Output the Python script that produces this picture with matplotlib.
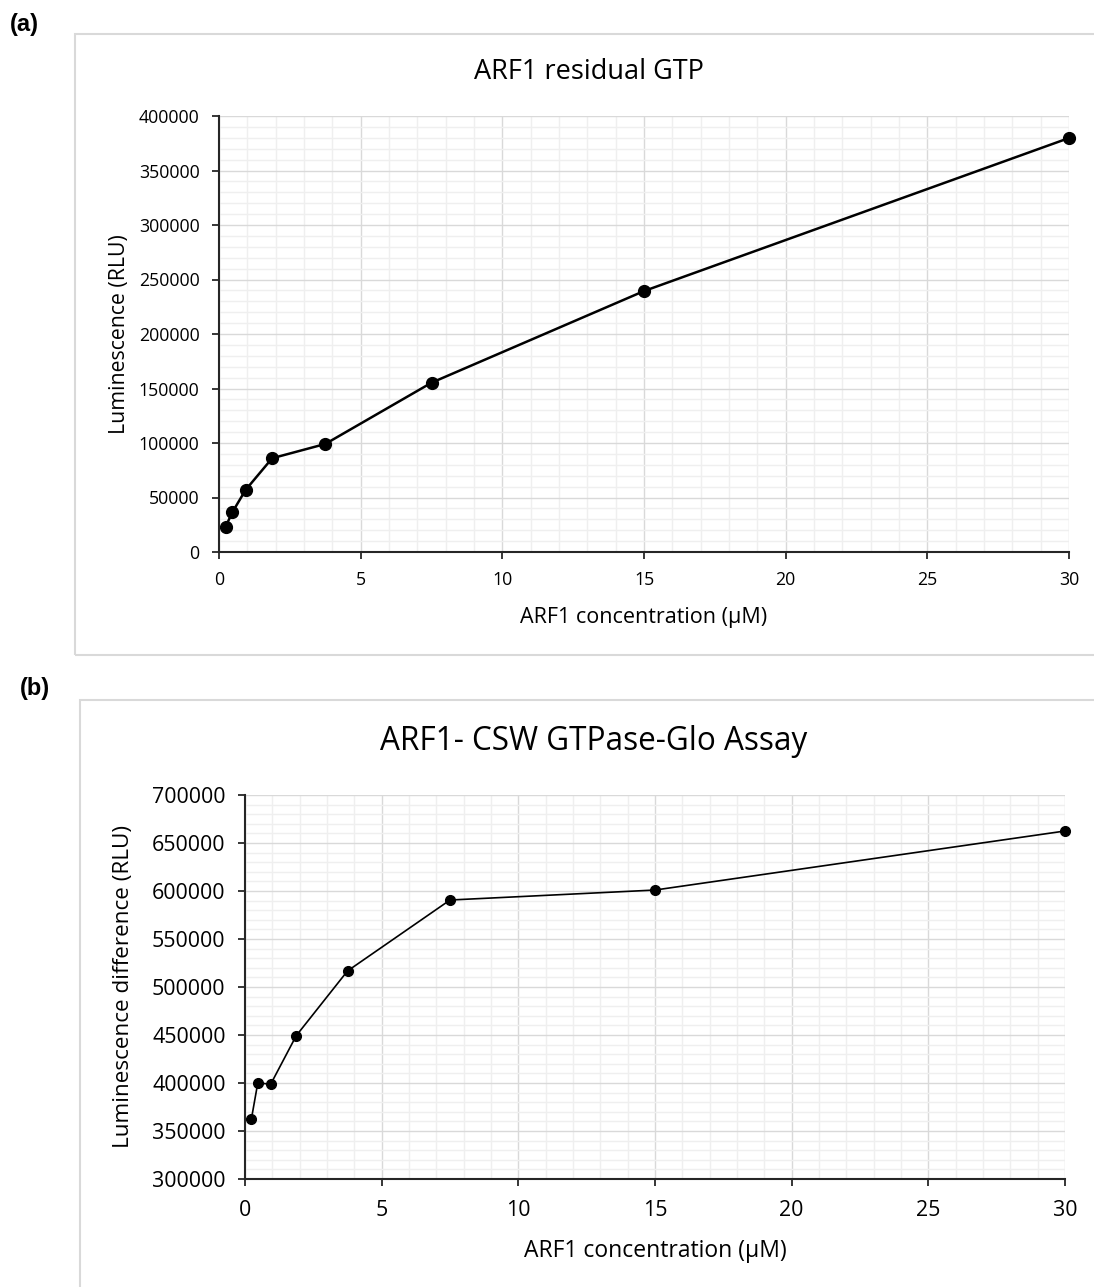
import numpy as np
import matplotlib.pyplot as plt
from matplotlib.patches import Rectangle
from matplotlib.ticker import MultipleLocator

# ARF1 concentrations (uM)
conc = [0.234, 0.469, 0.9375, 1.875, 3.75, 7.5, 15, 30]

# (a) residual GTP luminescence
lum_a = [23200, 36400, 56900, 86000, 99100, 155300, 239400, 379800]

# (b) luminescence difference, ARF1 + CSW
lum_b = [362500, 400300, 398600, 449300, 516700, 590600, 601000, 662500]

W, H = 1094, 1287
plt.rcParams['font.family'] = ['Open Sans', 'DejaVu Sans']

fig = plt.figure(figsize=(W / 100, H / 100), dpi=100)


def px(x0, y0, x1, y1):
    # pixel box -> figure fraction [left, bottom, width, height]
    return [x0 / W, 1 - y1 / H, (x1 - x0) / W, (y1 - y0) / H]


# chart area frames
for (x0, y0, x1, y1) in [(75, 34, 1110, 655), (80, 700, 1110, 1300)]:
    l, b, w, h = px(x0, y0, x1, y1)
    fig.add_artist(Rectangle((l, b), w, h, transform=fig.transFigure,
                             facecolor='none', edgecolor='#d9d9d9', lw=1.5))

fig.text(10 / W, 1 - 25 / H, '(a)', family='Liberation Sans', weight='bold',
         fontsize=17, va='center', ha='left')
fig.text(20 / W, 1 - 688 / H, '(b)', family='Liberation Sans', weight='bold',
         fontsize=17, va='center', ha='left')


def style(ax, ymin, ymax, fs, xpad, ypad):
    ax.set_xlim(0, 30)
    ax.set_ylim(ymin, ymax)
    ax.xaxis.set_major_locator(MultipleLocator(5))
    ax.xaxis.set_minor_locator(MultipleLocator(1))
    ax.yaxis.set_major_locator(MultipleLocator(50000))
    ax.yaxis.set_minor_locator(MultipleLocator(10000))
    ax.grid(which='major', color='#d9d9d9', lw=1.0)
    ax.grid(which='minor', color='#efefef', lw=1.0)
    ax.set_axisbelow(True)
    for s in ['top', 'right']:
        ax.spines[s].set_visible(False)
    for s in ['left', 'bottom']:
        ax.spines[s].set_color('#262626')
        ax.spines[s].set_linewidth(1.5)
    ax.tick_params(which='major', length=5, width=1.3, color='#262626',
                   labelsize=fs)
    ax.tick_params(axis='x', pad=xpad)
    ax.tick_params(axis='y', pad=ypad)
    ax.tick_params(which='minor', length=0)
    ax.yaxis.set_major_formatter(plt.FuncFormatter(lambda v, p: '%d' % v))


# (a)
ax1 = fig.add_axes(px(219, 116, 1069, 552))
style(ax1, 0, 400000, 12.8, 9, 9)
ax1.plot(conc, lum_a, color='black', lw=1.8, marker='o', ms=8.5, clip_on=False)
fig.text(589 / W, 1 - 72 / H, 'ARF1 residual GTP', fontsize=19.5,
         ha='center', va='center')
ax1.set_xlabel('ARF1 concentration (\u00b5M)', fontsize=15.5, labelpad=13)
ax1.set_ylabel('Luminescence (RLU)', fontsize=15.3, labelpad=6)

# (b)
ax2 = fig.add_axes(px(245, 795, 1065, 1179))
style(ax2, 300000, 700000, 15.4, 10, 9)
ax2.plot(conc, lum_b, color='black', lw=1.2, marker='o', ms=7, clip_on=False)
fig.text(594 / W, 1 - 742 / H, 'ARF1- CSW GTPase-Glo Assay', fontsize=22.7,
         ha='center', va='center')
ax2.set_xlabel('ARF1 concentration (\u00b5M)', fontsize=16.5, labelpad=13)
ax2.set_ylabel('Luminescence difference (RLU)', fontsize=16.2, labelpad=13)

fig.savefig('out.png', dpi=100)
